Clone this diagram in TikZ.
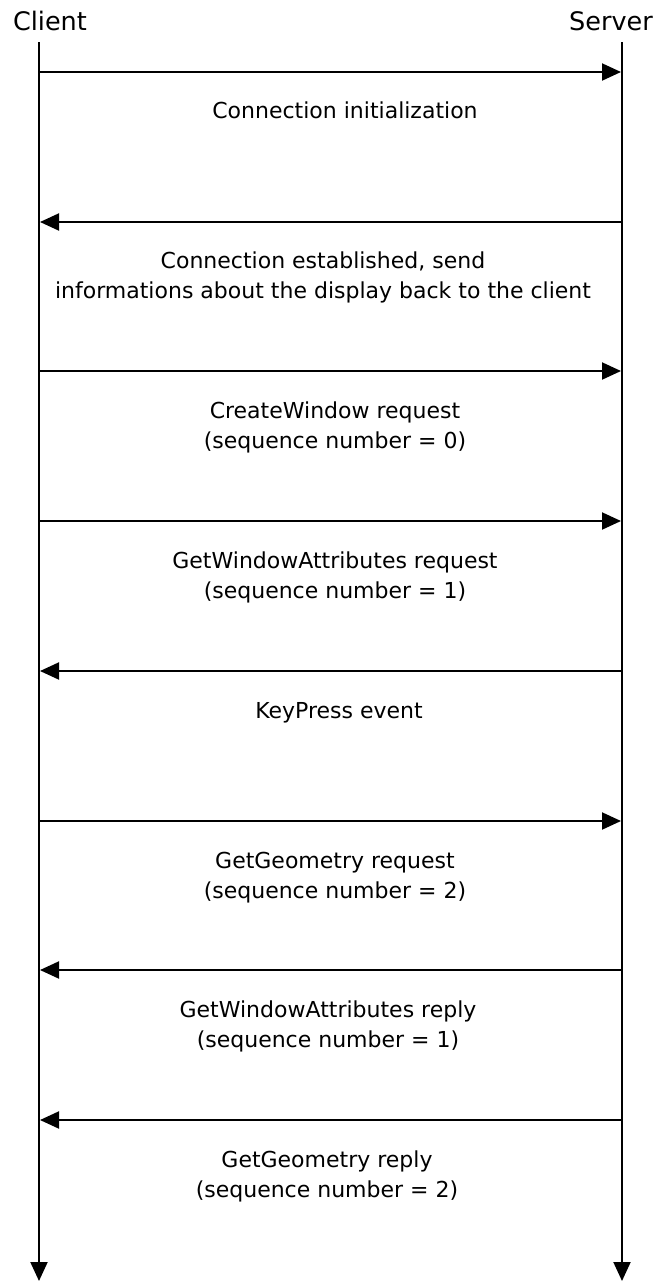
\documentclass[tikz,border=0pt]{standalone}
\usepackage{fontspec}
\setmainfont{DejaVu Sans}
\usetikzlibrary{arrows.meta}
\begin{document}
\begin{tikzpicture}[x=1pt,y=-1pt,
  lifeline/.style={line width=2pt,-{Triangle[length=19pt,width=17pt]}},
  msg/.style={line width=2pt,-{Triangle[length=19pt,width=17pt]}},
  party/.style={inner sep=0pt,font=\fontsize{25.5}{28}\selectfont},
  msgtext/.style={inner sep=0pt,align=center,font=\fontsize{22}{30}\selectfont}]
\useasboundingbox (0,0) rectangle (657,1283);
% participants
\node[party] (client) at (50,21) {Client};
\node[party] (server) at (611,21) {Server};
\coordinate (ctop) at (39,42);
\coordinate (stop) at (622,42);
\coordinate (cend) at (39,1281);
\coordinate (send) at (622,1281);
\draw[lifeline] (ctop) -- (cend);
\draw[lifeline] (stop) -- (send);
% message anchors on the lifelines
\foreach \n/\y in {1/72,2/222,3/371,4/521,5/671,6/821,7/970,8/1120}{
  \coordinate (c\n) at (40,\y);
  \coordinate (s\n) at (621,\y);
}
\draw[msg] (c1) -- (s1);
\draw[msg] (s2) -- (c2);
\draw[msg] (c3) -- (s3);
\draw[msg] (c4) -- (s4);
\draw[msg] (s5) -- (c5);
\draw[msg] (c6) -- (s6);
\draw[msg] (s7) -- (c7);
\draw[msg] (s8) -- (c8);
% message labels
\node[msgtext,anchor=north] (t1) at (345,102) {Connection initialization};
\node[msgtext,anchor=north] (t2) at (323,252) {Connection established, send\\informations about the display back to the client};
\node[msgtext,anchor=north] (t3) at (335,402) {CreateWindow request\\(sequence number = 0)};
\node[msgtext,anchor=north] (t4) at (335,552) {GetWindowAttributes request\\(sequence number = 1)};
\node[msgtext,anchor=north] (t5) at (339,702) {KeyPress event};
\node[msgtext,anchor=north] (t6) at (335,852) {GetGeometry request\\(sequence number = 2)};
\node[msgtext,anchor=north] (t7) at (328,1001) {GetWindowAttributes reply\\(sequence number = 1)};
\node[msgtext,anchor=north] (t8) at (327,1151) {GetGeometry reply\\(sequence number = 2)};
\end{tikzpicture}
\end{document}
